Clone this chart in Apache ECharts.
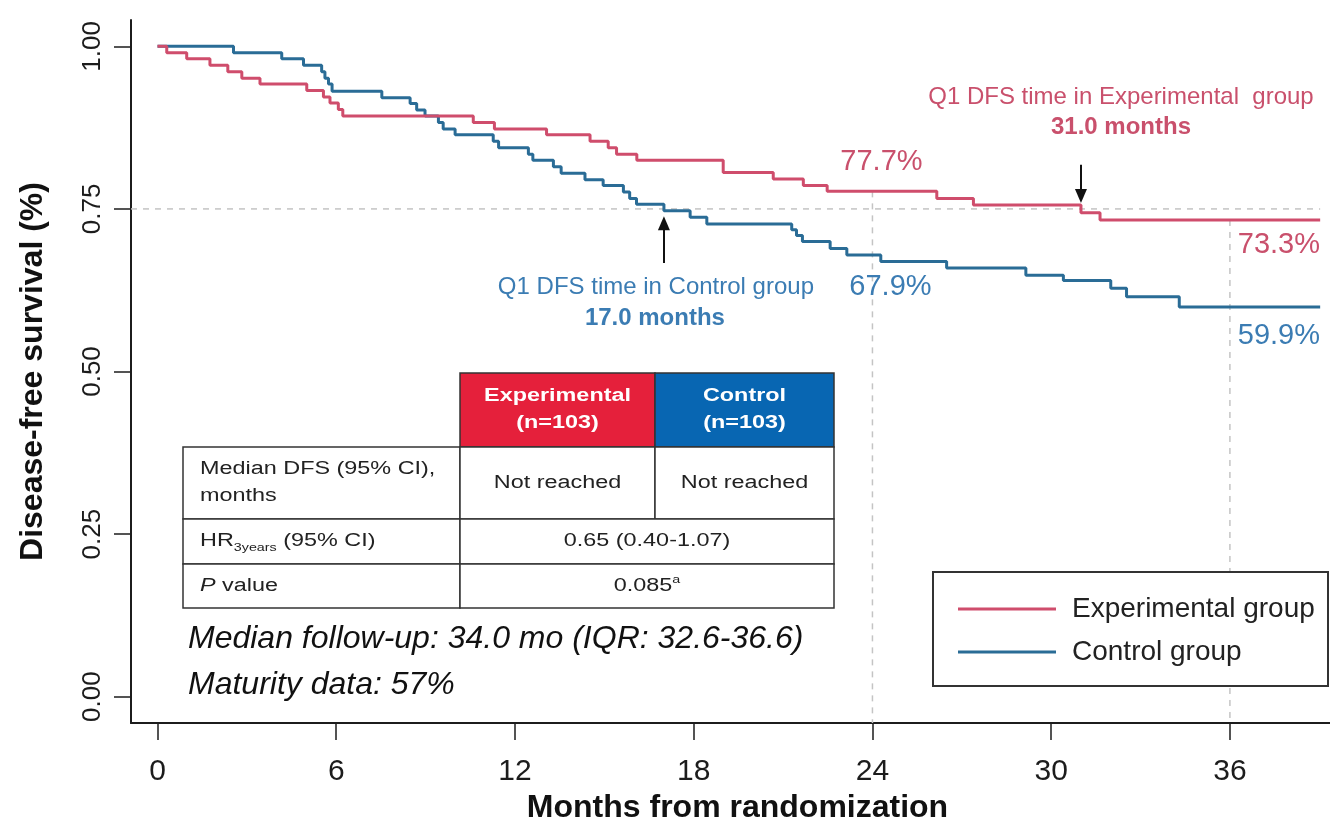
<!DOCTYPE html>
<html>
<head>
<meta charset="utf-8">
<script src="https://cdn.jsdelivr.net/npm/echarts@6/dist/echarts.min.js"></script>
<style>
  html, body { margin: 0; padding: 0; background: #fff; }
  #chart { width: 1330px; height: 823px; }
</style>
</head>
<body>
<div id="chart"></div>
<script>
// Kaplan-Meier step points: time of each drop (months) and survival after it
const expTimes = [0, 0.31, 0.98, 1.76, 2.36, 2.83, 3.44, 5.01, 5.57, 5.79, 6.07, 6.22,
  10.6, 11.31, 13.06, 14.52, 15.13, 15.41, 16.09, 18.99, 20.67, 21.68, 22.48,
  26.16, 27.39, 31.0, 31.64, 39.03];
const expSurv = [1.0, 0.990, 0.981, 0.971, 0.961, 0.951, 0.942, 0.932, 0.922, 0.913, 0.903, 0.893,
  0.883, 0.873, 0.864, 0.854, 0.844, 0.834, 0.825, 0.806, 0.796, 0.786, 0.777,
  0.766, 0.756, 0.744, 0.733, 0.733];

const ctlTimes = [0, 2.55, 4.17, 4.9, 5.51, 5.62, 5.74, 5.86, 7.53, 8.48, 8.7, 8.98,
  9.43, 9.59, 9.99, 11.27, 11.45, 12.45, 12.6, 13.29, 13.55, 14.35, 14.96,
  15.64, 15.85, 16.08, 17.0, 17.88, 18.44, 21.29, 21.45, 21.65, 22.58, 23.14,
  24.28, 26.49, 29.15, 30.41, 32.0, 32.53, 34.3, 39.03];
const ctlSurv = [1.0, 0.990, 0.981, 0.971, 0.961, 0.951, 0.942, 0.931, 0.921, 0.912, 0.902, 0.893,
  0.883, 0.873, 0.864, 0.854, 0.844, 0.834, 0.825, 0.815, 0.805, 0.795, 0.786,
  0.776, 0.766, 0.757, 0.747, 0.737, 0.727, 0.718, 0.709, 0.700, 0.689, 0.679,
  0.669, 0.659, 0.648, 0.640, 0.628, 0.615, 0.599, 0.599];

const xTicks = [0, 6, 12, 18, 24, 30, 36];
const yTicks = [0, 0.25, 0.5, 0.75, 1.0];
const landmarks = [24, 36];
const q1Level = 0.75;
const q1Exp = 31.0;
const q1Ctl = 17.0;
const groupNames = ['Experimental group', 'Control group'];

const tableHead = ['Experimental\n(n=103)', 'Control\n(n=103)'];
const tableRowMedian = ['Median DFS (95% CI),\nmonths', 'Not reached', 'Not reached'];
const tableRowHR = ['0.65 (0.40-1.07)'];
const tableRowP = ['0.085'];
const footNotes = ['Median follow-up: 34.0 mo (IQR: 32.6-36.6)', 'Maturity data: 57%'];

const FONT = '"Liberation Sans", Arial, Helvetica, sans-serif';
const RED = '#cf4d6c';
const BLUE = '#2a6c96';
const RED_TXT = '#c9506c';
const BLUE_TXT = '#3b7cb3';
const INK = '#1c1c1c';

const xMin = -0.89, xMax = 39.36, yMin = -0.0405, yMax = 1.0405;

function pairs(t, s) { return t.map((v, i) => [v, s[i]]); }
function survAt(t, times, surv) {
  let v = surv[0];
  for (let i = 0; i < times.length; i++) if (times[i] <= t) v = surv[i];
  return v;
}
const lastTime = Math.max(expTimes[expTimes.length - 1], ctlTimes[ctlTimes.length - 1]);
const dashStyle = { color: '#c4c4c4', width: 1.5, type: [6, 6] };

const chart = echarts.init(document.getElementById('chart'), null, { renderer: 'canvas' });

const guideSeries = [{
  type: 'line', silent: true, symbol: 'none', z: 1,
  data: [[xMin, q1Level], [lastTime, q1Level]],
  lineStyle: dashStyle
}].concat(landmarks.map(m => ({
  type: 'line', silent: true, symbol: 'none', z: 1,
  data: [[m, survAt(m, expTimes, expSurv)], [m, yMin]],
  lineStyle: dashStyle
})));

function arrow(month, from, to) {
  return {
    silent: true, symbol: ['none', 'triangle'], symbolSize: [12, 14],
    label: { show: false },
    lineStyle: { color: '#111', width: 2, type: 'solid' },
    data: [[{ coord: [month, from] }, { coord: [month, to] }]]
  };
}

chart.setOption({
  animation: false,
  grid: { left: 131, right: 0, top: 20, bottom: 100, outerBoundsMode: 'none' },
  xAxis: {
    type: 'value', min: xMin, max: xMax,
    splitLine: { show: false },
    axisLine: { onZero: false, lineStyle: { color: INK, width: 2 } },
    axisTick: { customValues: xTicks, length: 17, lineStyle: { color: INK, width: 1.5 } },
    axisLabel: { customValues: xTicks, fontSize: 30, color: INK, margin: 34, fontFamily: FONT },
    name: 'Months from randomization', nameLocation: 'middle', nameGap: 66,
    nameTextStyle: { fontSize: 32, fontWeight: 'bold', color: '#111', fontFamily: FONT, padding: [0, 0, 0, 14] }
  },
  yAxis: {
    type: 'value', min: yMin, max: yMax,
    splitLine: { show: false },
    axisLine: { onZero: false, lineStyle: { color: INK, width: 2 } },
    axisTick: { customValues: yTicks, length: 17, lineStyle: { color: INK, width: 1.5 } },
    axisLabel: {
      customValues: yTicks, rotate: 90, fontSize: 26, color: INK, margin: 25, fontFamily: FONT,
      formatter: v => v.toFixed(2)
    },
    name: 'Disease-free survival (%)', nameLocation: 'middle', nameGap: 82,
    nameTextStyle: { fontSize: 32, fontWeight: 'bold', color: '#111', fontFamily: FONT }
  },
  series: guideSeries.concat([
    {
      name: groupNames[1], type: 'line', step: 'end', symbol: 'none', z: 3,
      data: pairs(ctlTimes, ctlSurv),
      lineStyle: { color: BLUE, width: 3 },
      markLine: arrow(q1Ctl, 0.667, 0.728)
    },
    {
      name: groupNames[0], type: 'line', step: 'end', symbol: 'none', z: 4,
      data: pairs(expTimes, expSurv),
      lineStyle: { color: RED, width: 3 },
      markLine: arrow(q1Exp, 0.818, 0.770)
    }
  ])
});

// Annotations, table and legend are placed relative to the grid's pixel scale
const px = (x, y) => chart.convertToPixel({ gridIndex: 0 }, [x, y]);
const pct = v => (v * 100).toFixed(1) + '%';

function label(text, x, y, color, size, weight, align) {
  return {
    type: 'text', z: 10, silent: true,
    style: {
      text, x, y, fill: color, fontSize: size, fontWeight: weight || 'normal',
      fontFamily: FONT, textAlign: align || 'center', textVerticalAlign: 'middle'
    }
  };
}

const g = [];
const pE = px(q1Exp, 0.818);
g.push(label('Q1 DFS time in Experimental  group', pE[0] + 40, 97, RED_TXT, 24));
g.push(label(q1Exp.toFixed(1) + ' months', pE[0] + 40, 127, RED_TXT, 24, 'bold'));
const pC = px(q1Ctl, 0.667);
g.push(label('Q1 DFS time in Control group', pC[0] - 8, 287, BLUE_TXT, 24));
g.push(label(q1Ctl.toFixed(1) + ' months', pC[0] - 9, 318, BLUE_TXT, 24, 'bold'));

// landmark survival values
const e24 = survAt(24, expTimes, expSurv), c24 = survAt(24, ctlTimes, ctlSurv);
const e36 = survAt(36, expTimes, expSurv), c36 = survAt(36, ctlTimes, ctlSurv);
let p = px(24, e24); g.push(label(pct(e24), p[0] + 9, p[1] - 29, RED_TXT, 29));
p = px(24, c24); g.push(label(pct(c24), p[0] + 18, p[1] + 32, BLUE_TXT, 29));
p = px(36, e36); g.push(label(pct(e36), p[0] + 49, p[1] + 25, RED_TXT, 29));
p = px(36, c36); g.push(label(pct(c36), p[0] + 49, p[1] + 29, BLUE_TXT, 29));

// summary table (its text is drawn slightly widened)
const T = { x0: 183, x1: 460, x2: 655, x3: 834, y0: 373, y1: 447, y2: 519, y3: 564, y4: 608 };
const TX = 1.3;
const border = { stroke: '#333', lineWidth: 1.5 };
function cell(x, y, w, h, fill) {
  return { type: 'rect', z: 8, silent: true, shape: { x, y, width: w, height: h },
    style: Object.assign({ fill: fill || '#fff' }, border) };
}
g.push(cell(T.x1, T.y0, T.x2 - T.x1, T.y1 - T.y0, '#e5203b'));
g.push(cell(T.x2, T.y0, T.x3 - T.x2, T.y1 - T.y0, '#0866b2'));
g.push(cell(T.x0, T.y1, T.x1 - T.x0, T.y2 - T.y1));
g.push(cell(T.x1, T.y1, T.x2 - T.x1, T.y2 - T.y1));
g.push(cell(T.x2, T.y1, T.x3 - T.x2, T.y2 - T.y1));
g.push(cell(T.x0, T.y2, T.x1 - T.x0, T.y3 - T.y2));
g.push(cell(T.x1, T.y2, T.x3 - T.x1, T.y3 - T.y2));
g.push(cell(T.x0, T.y3, T.x1 - T.x0, T.y4 - T.y3));
g.push(cell(T.x1, T.y3, T.x3 - T.x1, T.y4 - T.y3));

function tText(text, x, y, opts) {
  return {
    type: 'text', z: 9, silent: true, x, y, scaleX: TX,
    style: Object.assign({
      text, x: 0, y: 0, fill: '#222', fontSize: 18, fontFamily: FONT,
      textAlign: 'center', textVerticalAlign: 'middle', lineHeight: 27
    }, opts || {})
  };
}
const rich = {
  a: { fontSize: 18, fontFamily: FONT, fill: '#222', lineHeight: 24 },
  i: { fontSize: 18, fontFamily: FONT, fill: '#222', fontStyle: 'italic', lineHeight: 24 },
  sub: { fontSize: 11, fontFamily: FONT, fill: '#222', lineHeight: 24, verticalAlign: 'bottom' },
  sup: { fontSize: 11, fontFamily: FONT, fill: '#222', lineHeight: 24, verticalAlign: 'top' }
};
g.push(tText(tableHead[0], (T.x1 + T.x2) / 2, (T.y0 + T.y1) / 2, { fill: '#fff', fontWeight: 'bold' }));
g.push(tText(tableHead[1], (T.x2 + T.x3) / 2, (T.y0 + T.y1) / 2, { fill: '#fff', fontWeight: 'bold' }));
g.push(tText(tableRowMedian[0], T.x0 + 17, (T.y1 + T.y2) / 2, { textAlign: 'left' }));
g.push(tText(tableRowMedian[1], (T.x1 + T.x2) / 2, (T.y1 + T.y2) / 2));
g.push(tText(tableRowMedian[2], (T.x2 + T.x3) / 2, (T.y1 + T.y2) / 2));
g.push(tText('{a|HR}{sub|3years}{a| (95% CI)}', T.x0 + 17, (T.y2 + T.y3) / 2, { textAlign: 'left', rich }));
g.push(tText(tableRowHR[0], (T.x1 + T.x3) / 2, (T.y2 + T.y3) / 2));
g.push(tText('{i|P}{a| value}', T.x0 + 17, (T.y3 + T.y4) / 2, { textAlign: 'left', rich }));
g.push(tText('{a|' + tableRowP[0] + '}{sup|a}', (T.x1 + T.x3) / 2, (T.y3 + T.y4) / 2, { rich }));

// follow-up notes
footNotes.forEach((t, i) => {
  g.push({
    type: 'text', z: 9, silent: true,
    style: { text: t, x: 188, y: 639 + i * 46, fill: '#111', fontSize: 32, fontStyle: 'italic',
      fontFamily: FONT, textAlign: 'left', textVerticalAlign: 'middle' }
  });
});

// legend box
g.push({ type: 'rect', z: 8, silent: true, shape: { x: 933, y: 572, width: 395, height: 114 },
  style: { fill: '#fff', stroke: '#333', lineWidth: 2 } });
[[groupNames[0], RED, 609], [groupNames[1], BLUE, 652]].forEach(([name, color, y]) => {
  g.push({ type: 'line', z: 9, silent: true, shape: { x1: 958, y1: y, x2: 1056, y2: y },
    style: { stroke: color, lineWidth: 3 } });
  g.push({ type: 'text', z: 9, silent: true,
    style: { text: name, x: 1072, y, fill: '#222', fontSize: 28, fontFamily: FONT,
      textAlign: 'left', textVerticalAlign: 'middle' } });
});

chart.setOption({ graphic: g });
</script>
</body>
</html>
